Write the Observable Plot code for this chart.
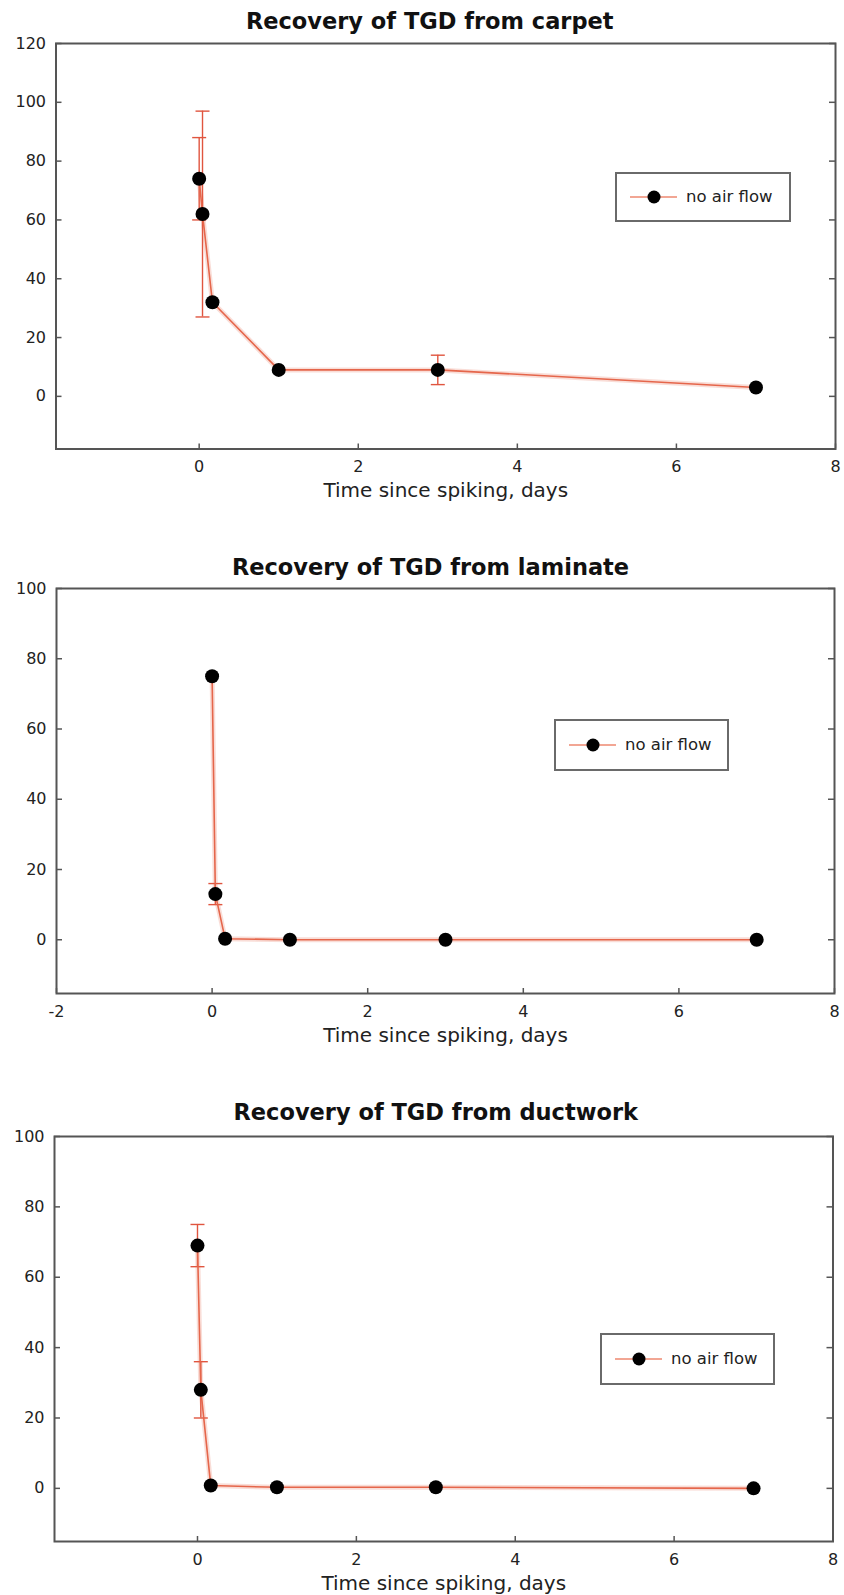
<!DOCTYPE html>
<html>
<head>
<meta charset="utf-8">
<script src="https://cdn.jsdelivr.net/npm/d3@7"></script>
<script src="https://cdn.jsdelivr.net/npm/@observablehq/plot@0.6"></script>
<style>
html, body { margin: 0; padding: 0; background: #fff; }
#root { width: 844px; }
.panel { position: relative; width: 844px; }
.panel > svg { display: block; }
.legend { position: absolute; box-sizing: border-box; border: 2px solid #6a6a6a; background: #fff;
  font-family: "DejaVu Sans", sans-serif; font-size: 16.5px; color: #222; }
.legend svg { position: absolute; left: 13px; top: 0; }
.legend span { position: absolute; left: 69px; top: 50%; transform: translateY(-52%); white-space: nowrap; }
</style>
</head>
<body>
<div id="root"></div>
<script>
// ---- data ----
const days = [0, 0.042, 0.167, 1, 3, 7];
const carpet = [74, 62, 32, 9, 9, 3];
const carpetErr = [14, 35, 0, 0, 5, 0];
const laminate = [75, 13, 0.3, 0, 0, 0];
const laminateErr = [0, 3, 0, 0, 0, 0];
const ductwork = [69, 28, 0.8, 0.3, 0.3, 0];
const ductworkErr = [6, 8, 0, 0, 0, 0];
const titles = ["Recovery of TGD from carpet", "Recovery of TGD from laminate", "Recovery of TGD from ductwork"];
const seriesLabel = "no air flow";
const xLabel = "Time since spiking, days";
const xTicksA = [0, 2, 4, 6, 8];
const xTicksB = [-2, 0, 2, 4, 6, 8];
const yTicksA = [0, 20, 40, 60, 80, 100, 120];
const yTicksB = [0, 20, 40, 60, 80, 100];

// ---- styling / layout ----
const lineColor = "#e5664b";
const errColor = "#e0553f";
const frameColor = "#555";

const panels = [
  { values: carpet, errors: carpetErr, title: titles[0], xDomain: [-1.8, 8], yDomain: [-17.9, 120],
    xTicks: xTicksA, yTicks: yTicksA, height: 530, marginTop: 43, marginBottom: 81.5, marginLeft: 55.5, marginRight: 9,
    titleDx: -16, titleDy: -15, legend: { left: 615, top: 172, width: 176, height: 50 } },
  { values: laminate, errors: laminateErr, title: titles[1], xDomain: [-2, 8], yDomain: [-15.3, 100],
    xTicks: xTicksB, yTicks: yTicksB, height: 535, marginTop: 58, marginBottom: 72, marginLeft: 56, marginRight: 10,
    titleDx: -15, titleDy: -14, legend: { left: 554, top: 189, width: 175, height: 52 } },
  { values: ductwork, errors: ductworkErr, title: titles[2], xDomain: [-1.8, 8], yDomain: [-15.1, 100],
    xTicks: xTicksA, yTicks: yTicksB, height: 530, marginTop: 71, marginBottom: 54, marginLeft: 54, marginRight: 11.5,
    titleDx: -8, titleDy: -16.5, legend: { left: 600, top: 268, width: 175, height: 52 } }
];

const capSymbol = {
  draw(ctx, size) { const r = Math.sqrt(size / Math.PI); ctx.moveTo(-r, 0); ctx.lineTo(r, 0); }
};
const fmt = d => String(d);

const root = document.getElementById("root");

for (const p of panels) {
  const rows = days.map((d, i) => ({ day: d, value: p.values[i] }));
  const errRows = days.map((d, i) => ({ day: d, lo: p.values[i] - p.errors[i], hi: p.values[i] + p.errors[i], e: p.errors[i] }))
    .filter(r => r.e > 0);

  const chart = Plot.plot({
    width: 844,
    height: p.height,
    marginTop: p.marginTop,
    marginBottom: p.marginBottom,
    marginLeft: p.marginLeft,
    marginRight: p.marginRight,
    style: { fontFamily: "DejaVu Sans, sans-serif", background: "#fff", color: "#222" },
    x: { domain: p.xDomain, label: null },
    y: { domain: p.yDomain, label: null },
    marks: [
      Plot.ruleX(errRows, { x: "day", y1: "lo", y2: "hi", stroke: errColor, strokeWidth: 1.4 }),
      Plot.dot(errRows, { x: "day", y: "lo", symbol: capSymbol, r: 7, fill: "none", stroke: errColor, strokeWidth: 1.4 }),
      Plot.dot(errRows, { x: "day", y: "hi", symbol: capSymbol, r: 7, fill: "none", stroke: errColor, strokeWidth: 1.4 }),
      Plot.line(rows, { x: "day", y: "value", stroke: lineColor, strokeWidth: 5, strokeOpacity: 0.22 }),
      Plot.line(rows, { x: "day", y: "value", stroke: lineColor, strokeWidth: 1.6 }),
      Plot.dot(rows, { x: "day", y: "value", r: 7, fill: "#000" }),
      Plot.frame({ stroke: frameColor, strokeWidth: 2 }),
      // inward tick marks
      Plot.axisY({ ticks: p.yTicks, anchor: "left", tickSize: 6, dx: 6, fill: "none", stroke: frameColor, strokeWidth: 1.5, label: null }),
      Plot.axisY({ ticks: p.yTicks, anchor: "right", tickSize: 7, dx: -7, fill: "none", stroke: frameColor, strokeWidth: 1.5, label: null }),
      Plot.axisX({ ticks: p.xTicks, anchor: "bottom", tickSize: 5, dy: -5, fill: "none", stroke: frameColor, strokeWidth: 1.5, label: null }),
      // tick labels
      Plot.axisY({ ticks: p.yTicks, anchor: "left", tickSize: 0, tickPadding: 10, fontSize: 16, tickFormat: fmt, label: null, fill: "#222" }),
      Plot.axisX({ ticks: p.xTicks, anchor: "bottom", tickSize: 0, tickPadding: 12, fontSize: 16, tickFormat: fmt, label: null, fill: "#222" }),
      // title and axis label
      Plot.text([p.title], { text: d => d, frameAnchor: "top", dx: p.titleDx, dy: p.titleDy, lineAnchor: "bottom",
        fontSize: 22.5, fontWeight: "bold", fill: "#111" }),
      Plot.text([xLabel], { text: d => d, frameAnchor: "bottom", dy: 48, lineAnchor: "bottom", fontSize: 20, fill: "#222" })
    ]
  });

  const panel = document.createElement("div");
  panel.className = "panel";
  panel.style.height = p.height + "px";
  panel.appendChild(chart);

  const L = p.legend;
  const lg = document.createElement("div");
  lg.className = "legend";
  Object.assign(lg.style, { left: L.left + "px", top: L.top + "px", width: L.width + "px", height: L.height + "px" });
  const ih = L.height - 4;
  lg.innerHTML = `<svg width="50" height="${ih}"><line x1="0" x2="47" y1="${ih / 2}" y2="${ih / 2}" stroke="#f2a694" stroke-width="2"/>` +
    `<circle cx="24" cy="${ih / 2}" r="6.5" fill="#000"/></svg><span>${seriesLabel}</span>`;
  panel.appendChild(lg);
  root.appendChild(panel);
}
</script>
</body>
</html>
